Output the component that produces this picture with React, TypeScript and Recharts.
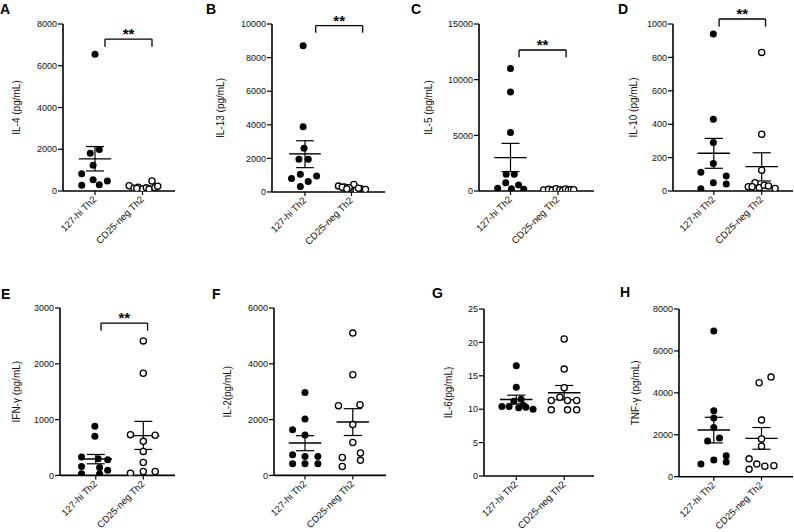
import React from 'react';
import { ScatterChart, Scatter, XAxis, YAxis, ReferenceLine } from 'recharts';

const groups = ['127-hi Th2', 'CD25-neg Th2'];

// A: IL-4
const il4Hi = [6550, 1810, 1990, 1230, 830, 540, 480, 270, 300];
const il4HiJitter = [0, -0.1, 0.09, -0.04, -0.28, -0.04, 0.26, -0.28, 0.09];
const il4Neg = [250, 130, 180, 100, 150, 480, 90, 160, 120, 230];
const il4NegJitter = [-0.28, -0.18, -0.09, 0, 0.08, 0.2, 0.14, 0.26, -0.12, 0.32];
const il4Mean = [1540, 190];
const il4SemHi = [2130, 226];
const il4SemLo = [960, 154];
const il4Ticks = [0, 2000, 4000, 6000, 8000];

// B: IL-13
const il13Hi = [8700, 3890, 2600, 1950, 1950, 1050, 800, 950, 620, 320];
const il13HiJitter = [-0.04, -0.04, -0.02, -0.13, 0.07, -0.1, -0.29, 0.25, 0.07, -0.1];
const il13Neg = [350, 300, 450, 200, 250, 150, 100, 280, 220, 180];
const il13NegJitter = [-0.28, -0.15, 0.05, 0.2, -0.05, 0.3, 0.1, -0.2, 0.15, -0.1];
const il13Mean = [2270, 250];
const il13SemHi = [3050, 285];
const il13SemLo = [1450, 215];
const il13Ticks = [0, 2000, 4000, 6000, 8000, 10000];

// C: IL-5
const il5Hi = [11000, 8900, 5250, 1500, 1500, 750, 550, 250, 200, 150];
const il5HiJitter = [0, 0, 0, -0.09, 0.08, -0.1, 0.17, -0.27, 0.02, 0.28];
const il5Neg = [100, 150, 80, 200, 120, 60, 180, 90, 140, 110];
const il5NegJitter = [-0.3, -0.2, -0.12, -0.04, 0.04, 0.1, 0.16, 0.22, 0.28, 0.33];
const il5Mean = [3000, 125];
const il5SemHi = [4280, 140];
const il5SemLo = [1740, 110];
const il5Ticks = [0, 5000, 10000, 15000];

// D: IL-10
const il10Hi = [940, 430, 290, 165, 112, 50, 90, 42, 14];
const il10HiJitter = [-0.01, -0.01, -0.01, -0.01, -0.27, -0.01, 0.26, 0.26, -0.27];
const il10Neg = [830, 340, 125, 25, 50, 20, 35, 30, 15, 25];
const il10NegJitter = [0, 0, 0, -0.28, -0.14, -0.05, 0.05, 0.14, 0.28, -0.2];
const il10Mean = [226, 146];
const il10SemHi = [315, 229];
const il10SemLo = [136, 60];
const il10Ticks = [0, 200, 400, 600, 800, 1000];

// E: IFN-γ
const ifnHi = [880, 700, 330, 300, 280, 160, 140, 30, 30, 90];
const ifnHiJitter = [-0.02, -0.02, -0.3, 0.05, 0.25, -0.3, 0.08, -0.3, 0.08, 0.25];
const ifnNeg = [2410, 1830, 730, 720, 610, 430, 230, 40, 70, 70];
const ifnNegJitter = [0, 0, -0.27, 0.25, 0, 0, 0, -0.27, 0, 0.25];
const ifnMean = [294, 712];
const ifnSemHi = [375, 968];
const ifnSemLo = [208, 465];
const ifnTicks = [0, 1000, 2000, 3000];

// F: IL-2
const il2Hi = [2970, 2020, 1640, 1450, 740, 680, 680, 420, 420, 420];
const il2HiJitter = [0, 0, -0.26, 0, -0.26, 0, 0.27, -0.26, 0, 0.27];
const il2Neg = [5100, 3610, 2500, 2530, 1820, 1180, 800, 640, 540, 320];
const il2NegJitter = [0, 0, -0.3, 0.15, 0, 0, 0.16, -0.22, 0.16, -0.22];
const il2Mean = [1161, 1912];
const il2SemHi = [1423, 2391];
const il2SemLo = [885, 1430];
const il2Ticks = [0, 2000, 4000, 6000];

// G: IL-6
const il6Hi = [16.5, 13.3, 11.2, 11.5, 10.4, 10.4, 10.2, 10.3, 10.0, 10.6];
const il6HiJitter = [0, 0, -0.05, 0.1, -0.3, -0.15, 0.05, 0.2, 0.35, 0.15];
const il6Neg = [20.5, 16.0, 13.2, 11.3, 11.8, 11.3, 11.3, 9.9, 9.9, 9.9];
const il6NegJitter = [0, 0, 0, -0.27, -0.09, 0.07, 0.26, -0.27, 0.07, 0.26];
const il6Mean = [11.45, 12.47];
const il6SemHi = [12.1, 13.55];
const il6SemLo = [10.8, 11.4];
const il6Ticks = [0, 5, 10, 15, 20, 25];

// H: TNF
const tnfHi = [6950, 3150, 2800, 2350, 1700, 1850, 600, 800, 1000, 700];
const tnfHiJitter = [0, 0, 0, 0, -0.13, 0.12, -0.27, 0, 0.26, 0.26];
const tnfNeg = [4750, 4480, 2700, 1800, 1450, 850, 600, 500, 520, 350];
const tnfNegJitter = [0.2, -0.05, 0, 0, 0, -0.26, -0.1, 0.07, 0.26, -0.26];
const tnfMean = [2228, 1830];
const tnfSemHi = [2834, 2345];
const tnfSemLo = [1610, 1310];
const tnfTicks = [0, 2000, 4000, 6000, 8000];

const panels = [
  { letter: 'A', yLabel: 'IL-4 (pg/mL)', ticks: il4Ticks, hi: il4Hi, hiJ: il4HiJitter, neg: il4Neg, negJ: il4NegJitter, mean: il4Mean, semHi: il4SemHi, semLo: il4SemLo, sig: '**', bracket: { x1: 1.21, x2: 2.2, y: 7280, drop: 6910 } },
  { letter: 'B', yLabel: 'IL-13 (pg/mL)', ticks: il13Ticks, hi: il13Hi, hiJ: il13HiJitter, neg: il13Neg, negJ: il13NegJitter, mean: il13Mean, semHi: il13SemHi, semLo: il13SemLo, sig: '**', bracket: { x1: 1.23, x2: 2.24, y: 9900, drop: 9480 } },
  { letter: 'C', yLabel: 'IL-5 (pg/mL)', ticks: il5Ticks, hi: il5Hi, hiJ: il5HiJitter, neg: il5Neg, negJ: il5NegJitter, mean: il5Mean, semHi: il5SemHi, semLo: il5SemLo, sig: '**', bracket: { x1: 1.18, x2: 2.17, y: 12665, drop: 12010 } },
  { letter: 'D', yLabel: 'IL-10 (pg/mL)', ticks: il10Ticks, hi: il10Hi, hiJ: il10HiJitter, neg: il10Neg, negJ: il10NegJitter, mean: il10Mean, semHi: il10SemHi, semLo: il10SemLo, sig: '**', bracket: { x1: 1.11, x2: 2.08, y: 1030, drop: 984 } },
  { letter: 'E', yLabel: 'IFN-γ (pg/mL)', ticks: ifnTicks, hi: ifnHi, hiJ: ifnHiJitter, neg: ifnNeg, negJ: ifnNegJitter, mean: ifnMean, semHi: ifnSemHi, semLo: ifnSemLo, sig: '**', bracket: { x1: 1.11, x2: 2.09, y: 2730, drop: 2593 } },
  { letter: 'F', yLabel: 'IL-2(pg/mL)', ticks: il2Ticks, hi: il2Hi, hiJ: il2HiJitter, neg: il2Neg, negJ: il2NegJitter, mean: il2Mean, semHi: il2SemHi, semLo: il2SemLo, sig: null, bracket: null },
  { letter: 'G', yLabel: 'IL-6(pg/mL)', ticks: il6Ticks, hi: il6Hi, hiJ: il6HiJitter, neg: il6Neg, negJ: il6NegJitter, mean: il6Mean, semHi: il6SemHi, semLo: il6SemLo, sig: null, bracket: null },
  { letter: 'H', yLabel: 'TNF-γ (pg/mL)', ticks: tnfTicks, hi: tnfHi, hiJ: tnfHiJitter, neg: tnfNeg, negJ: tnfNegJitter, mean: tnfMean, semHi: tnfSemHi, semLo: tnfSemLo, sig: null, bracket: null },
];

// pixel layout per panel
const layouts = [
  { axisX: 63, axisEnd: 175, g1: 95, g2: 142.5, top: 24, bottom: 191, labelX: 16, lx: 0, ly: 14 },
  { axisX: 272, axisEnd: 385, g1: 305, g2: 351.5, top: 24, bottom: 192, labelX: 220, lx: 206, ly: 14 },
  { axisX: 479, axisEnd: 594, g1: 510.5, g2: 558, top: 24, bottom: 191, labelX: 428, lx: 411, ly: 14 },
  { axisX: 673, axisEnd: 793, g1: 713.8, g2: 761.7, top: 24, bottom: 191, labelX: 633, lx: 618, ly: 14 },
  { axisX: 60, axisEnd: 175, g1: 95.8, g2: 143.3, top: 308.3, bottom: 475.7, labelX: 16, lx: 1, ly: 298.5 },
  { axisX: 274, axisEnd: 386, g1: 305, g2: 352.8, top: 308.3, bottom: 475.7, labelX: 227, lx: 212, ly: 298.5 },
  { axisX: 484, axisEnd: 594, g1: 516.3, g2: 564.2, top: 309, bottom: 476, labelX: 448, lx: 432, ly: 298 },
  { axisX: 679, axisEnd: 793, g1: 713.8, g2: 761.5, top: 309, bottom: 476.7, labelX: 635, lx: 620, ly: 297 },
];

const INK = '#111';

const CatTick = (props: any) => {
  const { x, y, payload } = props;
  return (
    <g transform={`translate(${x + 2},${y + 3})`}>
      <text x={0} y={0} transform="rotate(-45)" textAnchor="end" fontSize={9.6} fill={INK}>
        {groups[payload.value - 1]}
      </text>
    </g>
  );
};

const filledDot = (p: any) => <circle cx={p.cx} cy={p.cy} r={3.5} fill="#000" />;
const openDot = (p: any) => <circle cx={p.cx} cy={p.cy} r={3.1} fill="#fff" stroke="#000" strokeWidth={1.3} />;

function Panel({ d, l }: any) {
  const span = l.g2 - l.g1;
  const domainX = [1 - (l.g1 - l.axisX) / span, 2 + (l.axisEnd - l.g2) / span];
  const yw = 2 * (l.axisX - l.labelX);
  const mt = 34;
  const xh = 80;
  const mr = 2;
  const W = yw + (l.axisEnd - l.axisX) + mr;
  const H = mt + (l.bottom - l.top) + xh;
  const yMax = d.ticks[d.ticks.length - 1];
  const hiPts = d.hi.map((v: number, i: number) => ({ x: 1 + d.hiJ[i], y: v }));
  const negPts = d.neg.map((v: number, i: number) => ({ x: 2 + d.negJ[i], y: v }));
  const bars = [0, 1].map((g) => {
    const cx = g + 1;
    return (
      <React.Fragment key={g}>
        <ReferenceLine segment={[{ x: cx - 0.34, y: d.mean[g] }, { x: cx + 0.34, y: d.mean[g] }]} stroke="#000" strokeWidth={1.4} ifOverflow="visible" />
        <ReferenceLine segment={[{ x: cx, y: d.semLo[g] }, { x: cx, y: d.semHi[g] }]} stroke="#000" strokeWidth={1.2} ifOverflow="visible" />
        <ReferenceLine segment={[{ x: cx - 0.19, y: d.semHi[g] }, { x: cx + 0.19, y: d.semHi[g] }]} stroke="#000" strokeWidth={1.2} ifOverflow="visible" />
        <ReferenceLine segment={[{ x: cx - 0.19, y: d.semLo[g] }, { x: cx + 0.19, y: d.semLo[g] }]} stroke="#000" strokeWidth={1.2} ifOverflow="visible" />
      </React.Fragment>
    );
  });
  const b = d.bracket;
  return (
    <div style={{ position: 'absolute', left: l.axisX - yw, top: l.top - mt }}>
      <ScatterChart width={W} height={H} margin={{ top: mt, right: mr, bottom: 0, left: 0 }}>
        <XAxis
          type="number"
          dataKey="x"
          domain={domainX}
          ticks={[1, 2]}
          interval={0}
          allowDataOverflow
          height={xh}
          tick={<CatTick />}
          tickSize={4}
          axisLine={{ stroke: '#000', strokeWidth: 1.6 }}
          tickLine={{ stroke: '#000', strokeWidth: 1.2 }}
        />
        <YAxis
          type="number"
          dataKey="y"
          domain={[0, yMax]}
          ticks={d.ticks}
          interval={0}
          allowDataOverflow
          width={yw}
          tickSize={5}
          tickMargin={1}
          tick={{ fontSize: 9, fill: INK }}
          axisLine={{ stroke: '#000', strokeWidth: 1.6 }}
          tickLine={{ stroke: '#000', strokeWidth: 1.2 }}
          label={{ value: d.yLabel, angle: -90, position: 'center', fontSize: 10, fill: INK }}
        />
        {bars}
        <Scatter data={hiPts} shape={filledDot} isAnimationActive={false} />
        <Scatter data={negPts} shape={openDot} isAnimationActive={false} />
        {b && (
          <>
            <ReferenceLine segment={[{ x: b.x1, y: b.y }, { x: b.x2, y: b.y }]} stroke="#000" strokeWidth={1.3} ifOverflow="visible"
              label={{ value: d.sig, position: 'top', offset: 0, fontSize: 15, fontWeight: 'bold', fill: '#000' }} />
            <ReferenceLine segment={[{ x: b.x1, y: b.drop }, { x: b.x1, y: b.y }]} stroke="#000" strokeWidth={1.3} ifOverflow="visible" />
            <ReferenceLine segment={[{ x: b.x2, y: b.drop }, { x: b.x2, y: b.y }]} stroke="#000" strokeWidth={1.3} ifOverflow="visible" />
          </>
        )}
      </ScatterChart>
    </div>
  );
}

export default function App() {
  return (
    <div style={{ position: 'absolute', left: 0, top: 0, width: 794, height: 532, background: '#fff', overflow: 'hidden', fontFamily: '"Liberation Sans", Arial, sans-serif' }}>
      {panels.map((d, i) => (
        <Panel key={d.letter} d={d} l={layouts[i]} />
      ))}
      <svg width={794} height={532} style={{ position: 'absolute', left: 0, top: 0, pointerEvents: 'none' }}>
        {panels.map((d, i) => (
          <text key={d.letter} x={layouts[i].lx} y={layouts[i].ly} fontSize={14} fontWeight="bold" fill="#000">
            {d.letter}
          </text>
        ))}
      </svg>
    </div>
  );
}
